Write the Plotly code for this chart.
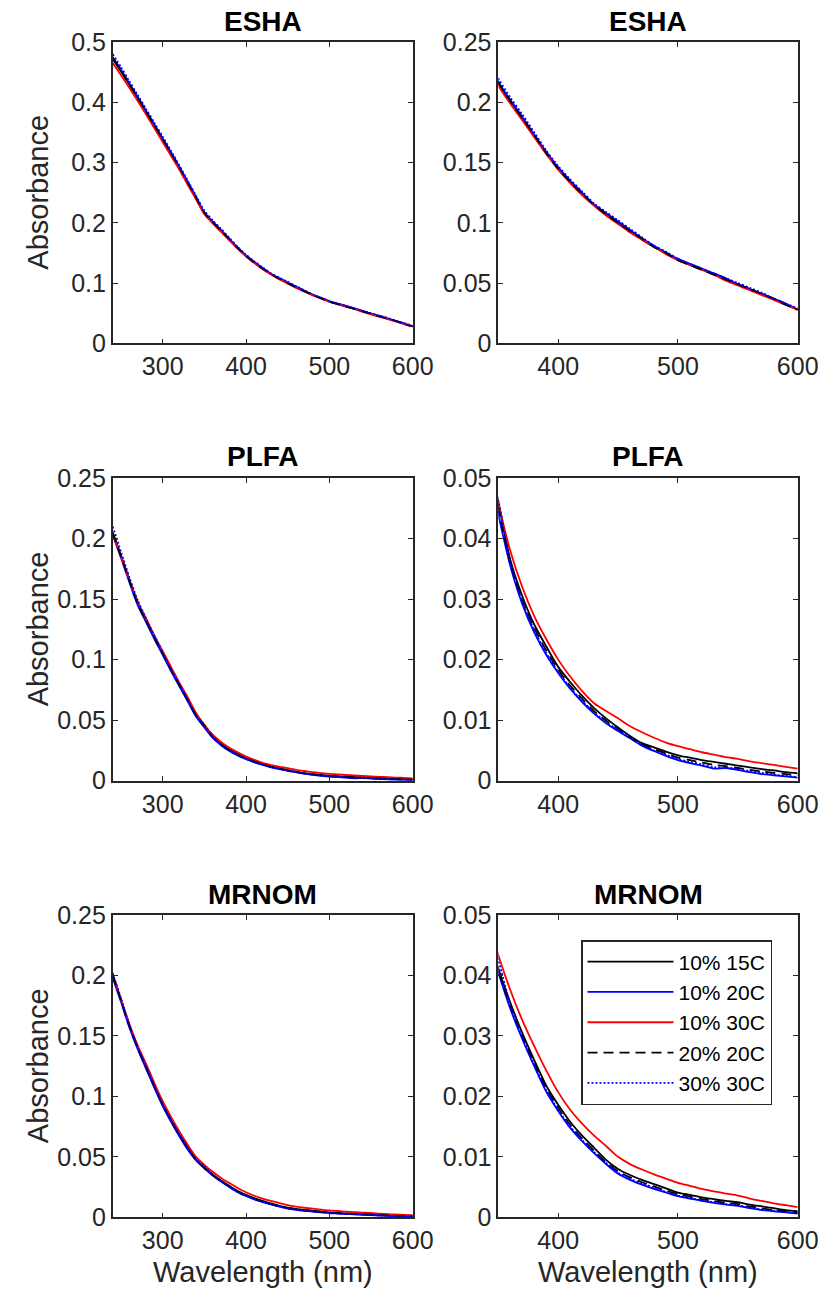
import plotly.graph_objects as go

# ---------------- data ----------------
wavelength = list(range(240, 610, 10))  # nm

series_names = ["10% 15C", "10% 20C", "10% 30C", "20% 20C", "30% 30C"]

esha_10_15 = [0.472,0.451,0.429,0.407,0.384,0.361,0.338,0.315,0.291,0.266,0.241,0.216,0.201,0.187,0.172,0.158,0.145,0.134,0.124,0.115,0.107,0.100,0.093,0.086,0.080,0.075,0.069,0.065,0.061,0.057,0.053,0.049,0.045,0.041,0.037,0.032,0.028]
esha_10_20 = [0.475,0.454,0.431,0.409,0.386,0.363,0.340,0.317,0.293,0.268,0.243,0.217,0.202,0.188,0.173,0.159,0.146,0.135,0.125,0.115,0.108,0.101,0.094,0.087,0.081,0.075,0.070,0.066,0.062,0.058,0.054,0.049,0.045,0.041,0.037,0.033,0.028]
esha_10_30 = [0.465,0.445,0.424,0.402,0.380,0.357,0.334,0.311,0.288,0.263,0.239,0.214,0.199,0.185,0.171,0.157,0.144,0.133,0.123,0.114,0.106,0.099,0.092,0.086,0.080,0.074,0.069,0.065,0.061,0.057,0.052,0.048,0.044,0.040,0.036,0.032,0.028]
esha_20_20 = [0.473,0.452,0.430,0.408,0.385,0.362,0.339,0.316,0.292,0.267,0.242,0.217,0.201,0.187,0.173,0.158,0.145,0.134,0.124,0.115,0.107,0.100,0.093,0.087,0.080,0.075,0.069,0.065,0.061,0.057,0.053,0.049,0.045,0.041,0.037,0.032,0.028]
esha_30_30 = [0.480,0.458,0.435,0.412,0.389,0.366,0.343,0.319,0.295,0.270,0.245,0.220,0.204,0.190,0.175,0.160,0.147,0.136,0.126,0.116,0.109,0.102,0.095,0.088,0.081,0.076,0.070,0.066,0.062,0.058,0.054,0.050,0.046,0.042,0.037,0.033,0.029]

plfa_10_15 = [0.205,0.186,0.166,0.147,0.133,0.119,0.106,0.0925,0.080,0.0675,0.055,0.046,0.0365,0.0305,0.0258,0.0222,0.0188,0.0163,0.0140,0.0120,0.0103,0.0088,0.0074,0.0062,0.0055,0.0048,0.0042,0.0038,0.0034,0.0031,0.0028,0.0025,0.0022,0.0019,0.0017,0.0014,0.0012]
plfa_10_20 = [0.203,0.184,0.164,0.145,0.131,0.117,0.104,0.0905,0.078,0.0655,0.053,0.044,0.0355,0.0292,0.0245,0.0208,0.0178,0.0152,0.0130,0.0111,0.0095,0.0082,0.0070,0.0058,0.0049,0.0041,0.0034,0.0029,0.0025,0.0020,0.0021,0.0018,0.0014,0.0011,0.0009,0.0007,0.0005]
plfa_10_30 = [0.204,0.185,0.166,0.148,0.134,0.120,0.107,0.094,0.081,0.069,0.056,0.046,0.038,0.032,0.0272,0.0234,0.0200,0.0172,0.0148,0.0128,0.0115,0.0103,0.0090,0.0080,0.0071,0.0063,0.0057,0.0052,0.0047,0.0043,0.0039,0.0036,0.0032,0.0029,0.0026,0.0023,0.0020]
plfa_20_20 = [0.205,0.185,0.165,0.146,0.132,0.118,0.105,0.0915,0.079,0.0665,0.054,0.045,0.036,0.0298,0.0252,0.0215,0.0183,0.0157,0.0135,0.0115,0.0099,0.0085,0.0072,0.0060,0.0052,0.0045,0.0038,0.0034,0.0030,0.0026,0.0024,0.0021,0.0018,0.0015,0.0013,0.0011,0.0009]
plfa_30_30 = [0.210,0.189,0.168,0.149,0.134,0.120,0.106,0.092,0.0795,0.067,0.054,0.0463,0.0362,0.0296,0.0249,0.0211,0.0180,0.0154,0.0132,0.0113,0.0097,0.0084,0.0071,0.0059,0.0050,0.0043,0.0036,0.0031,0.0027,0.0022,0.0022,0.0019,0.0016,0.0013,0.0010,0.0008,0.0006]

mrnom_10_15 = [0.201,0.180,0.159,0.141,0.125,0.109,0.094,0.081,0.069,0.058,0.048,0.0412,0.0355,0.0305,0.0260,0.0218,0.0186,0.0158,0.0135,0.0115,0.0095,0.0080,0.0070,0.0062,0.0055,0.0048,0.0041,0.0037,0.0033,0.0030,0.0027,0.0025,0.0021,0.0018,0.0015,0.0012,0.0010]
mrnom_10_20 = [0.198,0.178,0.157,0.139,0.123,0.107,0.092,0.079,0.067,0.056,0.047,0.0405,0.0345,0.0295,0.0250,0.0208,0.0176,0.0148,0.0126,0.0106,0.0088,0.0072,0.0062,0.0054,0.0047,0.0041,0.0035,0.0031,0.0027,0.0024,0.0021,0.0019,0.0015,0.0012,0.0010,0.0008,0.0006]
mrnom_10_30 = [0.200,0.180,0.160,0.142,0.127,0.111,0.096,0.083,0.071,0.060,0.050,0.0434,0.0376,0.0326,0.0283,0.0243,0.0207,0.0178,0.0155,0.0135,0.0118,0.0100,0.0088,0.0079,0.0071,0.0064,0.0057,0.0052,0.0047,0.0043,0.0039,0.0036,0.0031,0.0027,0.0023,0.0020,0.0017]
mrnom_20_20 = [0.200,0.179,0.158,0.140,0.124,0.108,0.093,0.080,0.068,0.057,0.0475,0.0408,0.0350,0.0300,0.0255,0.0213,0.0181,0.0153,0.0130,0.0110,0.0091,0.0076,0.0066,0.0058,0.0051,0.0044,0.0038,0.0034,0.0030,0.0027,0.0024,0.0022,0.0018,0.0015,0.0012,0.0010,0.0008]
mrnom_30_30 = [0.202,0.181,0.159,0.141,0.125,0.109,0.093,0.080,0.068,0.057,0.048,0.0425,0.0352,0.0298,0.0252,0.0210,0.0178,0.0150,0.0128,0.0108,0.0090,0.0074,0.0064,0.0056,0.0049,0.0042,0.0036,0.0032,0.0028,0.0025,0.0022,0.0020,0.0016,0.0013,0.0011,0.0009,0.0007]

samples = ["ESHA", "PLFA", "MRNOM"]
sample_series = {
    "ESHA": [esha_10_15, esha_10_20, esha_10_30, esha_20_20, esha_30_30],
    "PLFA": [plfa_10_15, plfa_10_20, plfa_10_30, plfa_20_20, plfa_30_30],
    "MRNOM": [mrnom_10_15, mrnom_10_20, mrnom_10_30, mrnom_20_20, mrnom_30_30],
}
x_ranges = [[240, 600], [350, 600]]
y_ranges = {"ESHA": [[0, 0.5], [0, 0.25]], "PLFA": [[0, 0.25], [0, 0.05]], "MRNOM": [[0, 0.25], [0, 0.05]]}
y_dticks = {"ESHA": [0.1, 0.05], "PLFA": [0.05, 0.01], "MRNOM": [0.05, 0.01]}

# ---------------- styling ----------------
W, H = 822, 1293
FONT = "Liberation Sans, Arial, Helvetica, sans-serif"
AX = "#262626"
line_styles = [
    dict(color="#000000", width=1.8, dash="solid"),
    dict(color="#0000ff", width=1.8, dash="solid"),
    dict(color="#ff0000", width=1.8, dash="solid"),
    dict(color="#000000", width=1.8, dash="10px,6px"),
    dict(color="#0000ff", width=1.8, dash="2px,2px"),
]

# target screen positions (window pixels)
col_px = [(112.7, 412.7), (498.3, 797.7)]
row_px = [(42.0, 343.3), (478.0, 780.7), (915.0, 1217.3)]


def px(v):
    return v / W


def py(v):
    return 1 - v / H


fig = go.Figure()
annotations = []
layout = {}
k = 0
for r, s in enumerate(samples):
    for c in range(2):
        k += 1
        xa = "x" if k == 1 else f"x{k}"
        ya = "y" if k == 1 else f"y{k}"
        for i, name in enumerate(series_names):
            fig.add_trace(go.Scatter(
                x=wavelength, y=sample_series[s][i], mode="lines", name=name,
                line=dict(line_styles[i], shape="spline", smoothing=0.8),
                xaxis=xa, yaxis=ya,
                showlegend=(k == 6), legendgroup=name,
            ))
        xd = [px(col_px[c][0]), px(col_px[c][1])]
        yd = [py(row_px[r][1]), py(row_px[r][0])]
        common = dict(showline=True, linecolor=AX, linewidth=1.6, mirror="ticks",
                      ticks="inside", ticklen=5, tickwidth=1.4, tickcolor=AX,
                      showgrid=False, zeroline=False, automargin=False,
                      tickfont=dict(family=FONT, size=25, color=AX))
        xkey = "xaxis" if k == 1 else f"xaxis{k}"
        ykey = "yaxis" if k == 1 else f"yaxis{k}"
        layout[xkey] = dict(common, domain=xd, anchor=ya, range=x_ranges[c],
                            dtick=100, tick0=0)
        layout[ykey] = dict(common, domain=yd, anchor=xa, range=y_ranges[s][c],
                            dtick=y_dticks[s][c], tick0=0)
        xc = (xd[0] + xd[1]) / 2
        yc = (yd[0] + yd[1]) / 2
        if c == 0:
            annotations.append(dict(text="Absorbance", x=px(38), y=yc, xref="paper", yref="paper",
                                    xanchor="center", yanchor="middle", textangle=-90,
                                    showarrow=False, font=dict(family=FONT, size=29, color=AX)))
        if r == 2:
            annotations.append(dict(text="Wavelength (nm)", x=xc, y=py(1272), xref="paper",
                                    yref="paper", xanchor="center", yanchor="middle",
                                    showarrow=False, font=dict(family=FONT, size=29, color=AX)))
        annotations.append(dict(text=f"<b>{s}</b>", x=xc, y=py(row_px[r][0] - 21),
                                xref="paper", yref="paper", xanchor="center", yanchor="middle",
                                showarrow=False,
                                font=dict(family=FONT, size=28, color="#000000")))

fig.update_layout(
    width=W, height=H, margin=dict(l=0, r=0, t=0, b=0, autoexpand=False),
    paper_bgcolor="white", plot_bgcolor="white",
    font=dict(family=FONT, color=AX),
    annotations=annotations,
    showlegend=True,
    legend=dict(x=px(772), xanchor="right", y=py(940), yanchor="top",
                bgcolor="white", bordercolor=AX, borderwidth=1.5,
                font=dict(family=FONT, size=21, color="#000000"),
                itemwidth=86, tracegroupgap=0),
    **layout,
)

fig.write_html("out.html", config={"displayModeBar": False},
               post_script="document.body.style.margin='0';document.body.style.overflow='hidden';")
